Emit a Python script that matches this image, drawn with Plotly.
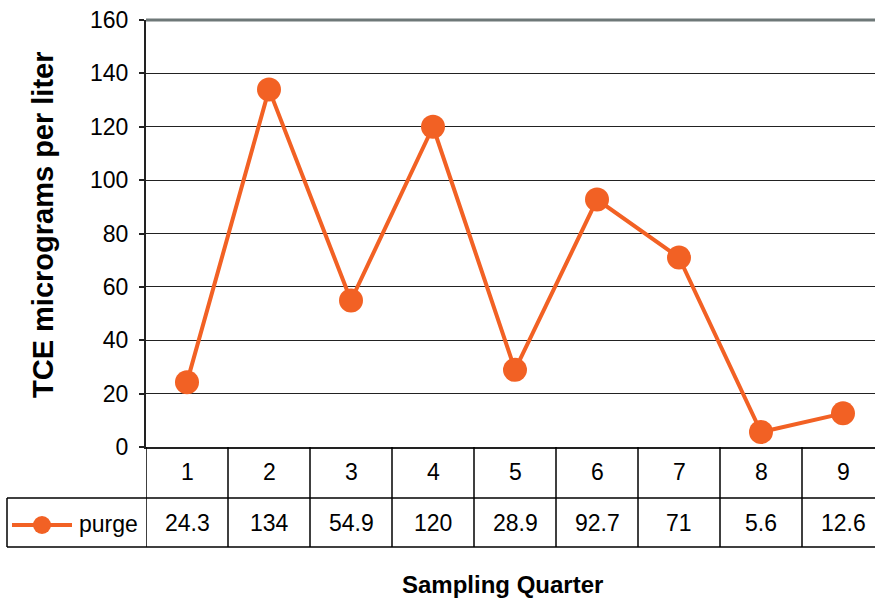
import plotly.graph_objects as go

# Sampling data
quarters = [1, 2, 3, 4, 5, 6, 7, 8, 9]
purge = [24.3, 134, 54.9, 120, 28.9, 92.7, 71, 5.6, 12.6]
series_name = "purge"
y_ticks = [0, 20, 40, 60, 80, 100, 120, 140, 160]

ORANGE = "#F26124"
FONT = "Liberation Sans, Arial, sans-serif"

W, H = 875, 600
L, T, B = 146, 20, 447          # plot area edges in pixels
R = W
PLOT_W, PLOT_H = R - L, B - T
COL_W = 82                      # pixel width of one category column


def px_x(X):
    return (X - L) / PLOT_W


def px_y(Y):
    return (B - Y) / PLOT_H


x_lo = 0.5
x_hi = x_lo + PLOT_W / COL_W

fig = go.Figure()
fig.add_trace(go.Scatter(
    x=quarters, y=purge, mode="lines+markers", name=series_name,
    line=dict(color=ORANGE, width=4),
    marker=dict(color=ORANGE, size=24),
    cliponaxis=False, showlegend=False,
))

shapes = []
row1_bot, row2_bot = 498, 547
table_left = 7
# top border of the plot area
shapes.append(dict(type="line", xref="paper", yref="paper", x0=0, x1=1, y0=1, y1=1,
                   line=dict(color="#6e7878", width=3)))
# horizontal table lines
for Y in (row1_bot, row2_bot):
    shapes.append(dict(type="line", xref="paper", yref="paper",
                       x0=px_x(table_left), x1=1.02, y0=px_y(Y), y1=px_y(Y),
                       line=dict(color="black", width=1.5)))
# vertical column separators
for i in range(len(quarters) + 1):
    xc = 0.5 + i
    shapes.append(dict(type="line", xref="x", yref="paper", x0=xc, x1=xc,
                       y0=0, y1=px_y(row2_bot),
                       line=dict(color="black", width=1.5)))
# left border of the series row
shapes.append(dict(type="line", xref="paper", yref="paper",
                   x0=px_x(table_left), x1=px_x(table_left),
                   y0=px_y(row1_bot), y1=px_y(row2_bot),
                   line=dict(color="black", width=1.5)))
# legend key in the series row
key_y = px_y(525)
shapes.append(dict(type="line", xref="paper", yref="paper",
                   x0=px_x(12), x1=px_x(72), y0=key_y, y1=key_y,
                   line=dict(color=ORANGE, width=4)))
r = 9
shapes.append(dict(type="circle", xref="paper", yref="paper",
                   x0=px_x(42 - r), x1=px_x(42 + r),
                   y0=px_y(525 + r), y1=px_y(525 - r),
                   fillcolor=ORANGE, line=dict(color=ORANGE, width=0)))

cell_font = dict(family=FONT, size=23, color="black")
annotations = []
for q, v in zip(quarters, purge):
    annotations.append(dict(x=q, y=px_y(472), xref="x", yref="paper", text=str(q),
                            yanchor="middle", showarrow=False, font=cell_font))
    annotations.append(dict(x=q, y=px_y(523), xref="x", yref="paper", text=f"{v:g}",
                            yanchor="middle", showarrow=False, font=cell_font))
annotations.append(dict(x=px_x(77), y=px_y(524), xref="paper", yref="paper", text=series_name,
                        xanchor="left", yanchor="middle", showarrow=False, font=cell_font))
annotations.append(dict(x=px_x(502), y=px_y(584), xref="paper", yref="paper",
                        text="<b>Sampling Quarter</b>", xanchor="center", yanchor="middle",
                        showarrow=False, font=dict(family=FONT, size=24, color="black")))
annotations.append(dict(x=px_x(43), y=px_y(225), xref="paper", yref="paper",
                        text="<b>TCE micrograms per liter</b>", textangle=-90,
                        xanchor="center", yanchor="middle", showarrow=False,
                        font=dict(family=FONT, size=29, color="black")))

fig.update_layout(
    width=W, height=H,
    margin=dict(l=L, r=W - R, t=T, b=H - B),
    paper_bgcolor="white", plot_bgcolor="white",
    shapes=shapes, annotations=annotations,
    xaxis=dict(range=[x_lo, x_hi], showgrid=False, zeroline=False,
               showticklabels=False, ticks="", showline=True,
               linecolor="#222222", linewidth=2, fixedrange=True),
    yaxis=dict(range=[0, 160], tickvals=y_ticks, showgrid=True,
               gridcolor="#222222", gridwidth=1, zeroline=False,
               showline=True, linecolor="#222222", linewidth=2,
               ticks="outside", ticklen=5, tickcolor="#222222", tickwidth=1.5,
               ticklabelstandoff=6,
               tickfont=dict(family=FONT, size=23, color="black"),
               fixedrange=True),
    font=dict(family=FONT, color="black"),
)

fig.write_html("out.html")
